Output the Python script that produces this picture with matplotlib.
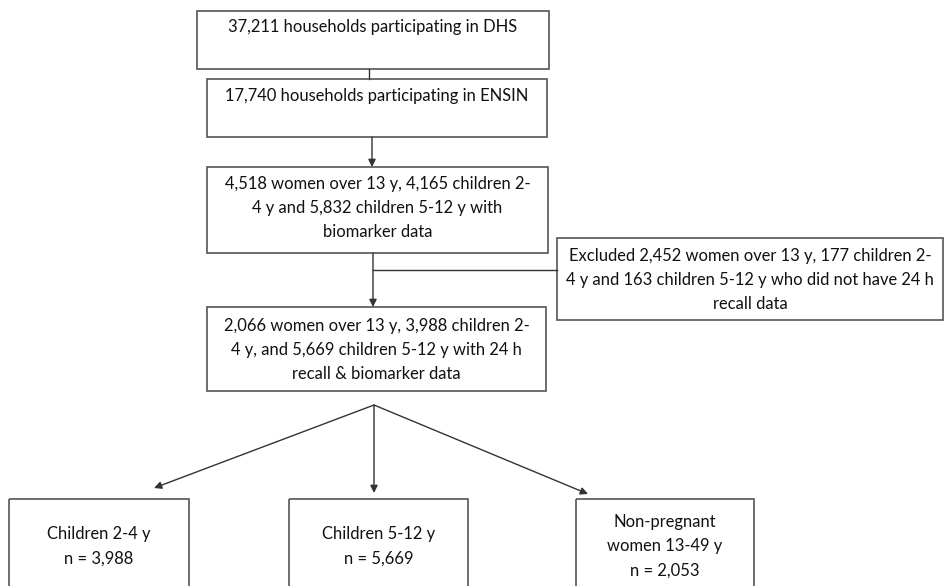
import matplotlib.pyplot as plt
from matplotlib.patches import Rectangle

plt.rcParams['font.family'] = ['Lato', 'DejaVu Sans']

# box texts of the flow chart
top_steps = [
    "37,211 households participating in DHS",
    "17,740 households participating in ENSIN",
    "4,518 women over 13 y, 4,165 children 2-\n4 y and 5,832 children 5-12 y with\nbiomarker data",
    "2,066 women over 13 y, 3,988 children 2-\n4 y, and 5,669 children 5-12 y with 24 h\nrecall & biomarker data",
]
excluded_text = ("Excluded 2,452 women over 13 y, 177 children 2-\n"
                 "4 y and 163 children 5-12 y who did not have 24 h\nrecall data")
groups = ["Children 2-4 y", "Children 5-12 y", "Non-pregnant\nwomen 13-49 y"]
group_n = ["3,988", "5,669", "2,053"]

W, H = 945, 586
fig = plt.figure(figsize=(W / 100, H / 100), dpi=100)
ax = fig.add_axes([0, 0, 1, 1])
ax.set_xlim(0, W)
ax.set_ylim(H, 0)
ax.axis('off')

EDGE = '#555555'
LINE = '#333333'
TXT = '#111111'
FS = 11.9
LS = 1.64


def box(x0, y0, x1, y1, text, ty=None, va='center'):
    ax.add_patch(Rectangle((x0, y0), x1 - x0, y1 - y0, fill=False,
                           ec=EDGE, lw=1.2))
    if ty is None:
        ty = (y0 + y1) / 2
    ax.text((x0 + x1) / 2, ty, text, ha='center', va=va, fontsize=FS,
            color=TXT, linespacing=LS)


def arrow(x0, y0, x1, y1):
    ax.annotate('', xy=(x1, y1), xytext=(x0, y0),
                arrowprops=dict(arrowstyle='-|>', color=LINE, lw=1.0,
                                mutation_scale=11, shrinkA=0, shrinkB=0))


# main column
box(197, 11, 549, 69, top_steps[0], ty=27)
box(207, 79, 547, 137, top_steps[1], ty=96)
box(207, 167, 548, 253, top_steps[2], ty=208)
box(207, 307, 546, 391, top_steps[3], ty=350)
box(557, 238, 943, 320, excluded_text, ty=280)

ax.plot([369, 369], [69, 79], color=LINE, lw=1.0)
arrow(372, 137, 372, 167)
arrow(373, 253, 373, 307)
ax.plot([373, 557], [270, 270], color=LINE, lw=1.0)

# split into three groups
split = (374, 405)
tips = [(154, 488), (374, 493), (588, 494)]
for tx, ty in tips:
    arrow(split[0], split[1], tx, ty)

bottom = [(9, 189), (289, 468), (576, 754)]
for (x0, x1), g, n in zip(bottom, groups, group_n):
    ax.add_patch(Rectangle((x0, 499), x1 - x0, 120, fill=False,
                           ec=EDGE, lw=1.2))
    ax.text((x0 + x1) / 2, 546, g + "\nn = " + n, ha='center', va='center',
            fontsize=FS, color=TXT, linespacing=LS)

fig.savefig('out.png', dpi=100)
